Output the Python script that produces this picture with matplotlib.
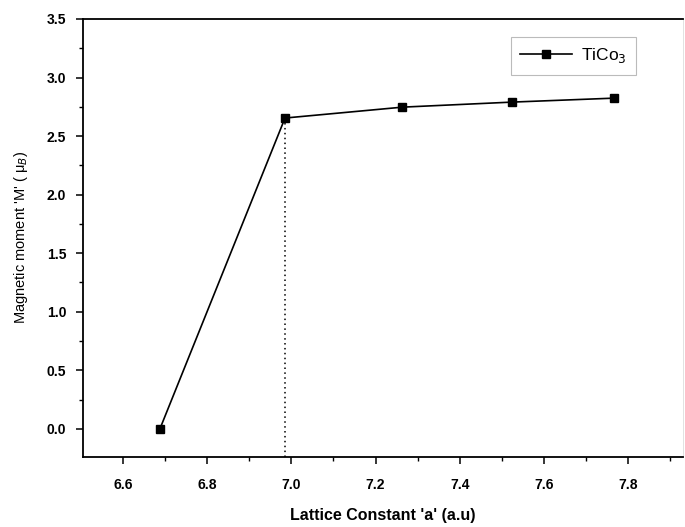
import matplotlib
matplotlib.use("Agg")
import matplotlib.pyplot as plt
from matplotlib.ticker import MultipleLocator

plt.rcParams['font.family'] = ['Liberation Sans', 'DejaVu Sans']

# Lattice constant (a.u) and magnetic moment (mu_B)
lattice_a = [6.688, 6.985, 7.264, 7.524, 7.767]
moment_M = [0.0, 2.654, 2.747, 2.790, 2.824]
series_label = "TiCo$_3$"
x_ticks = [6.6, 6.8, 7.0, 7.2, 7.4, 7.6, 7.8]
y_ticks = [0.0, 0.5, 1.0, 1.5, 2.0, 2.5, 3.0, 3.5]

fig = plt.figure(figsize=(6.85, 5.27), dpi=100)
ax = fig.add_axes([0.121, 0.133, 0.876, 0.831])

ax.plot(lattice_a, moment_M, color='black', lw=1.2, marker='s', ms=6,
        mec='black', mfc='black', label=series_label)

# dotted guide from the x-axis up to the kink point
ax.vlines(lattice_a[1], -0.24, moment_M[1], colors='black',
          linestyles=(0, (1, 2.2)), lw=1.1)

ax.set_xlim(6.505, 7.93)
ax.set_ylim(-0.24, 3.5)
ax.set_xticks(x_ticks)
ax.set_yticks(y_ticks)
ax.set_xticklabels([f"{v:.1f}" for v in x_ticks], fontweight='bold', fontsize=10)
ax.set_yticklabels([f"{v:.1f}" for v in y_ticks], fontweight='bold', fontsize=10)
ax.xaxis.set_minor_locator(MultipleLocator(0.1))
ax.yaxis.set_minor_locator(MultipleLocator(0.25))
ax.tick_params(which='major', direction='out', length=5, width=1.1, pad=7)
ax.tick_params(which='minor', direction='out', length=3, width=1.0)
ax.tick_params(axis='x', pad=10)
ax.tick_params(top=False, right=False)

for side in ['left', 'bottom', 'top']:
    ax.spines[side].set_linewidth(1.3)
ax.spines['right'].set_linewidth(0.6)
ax.spines['right'].set_color('#dddddd')

ax.set_xlabel("Lattice Constant 'a' (a.u)", fontsize=11.5, fontweight='bold', labelpad=12)
ax.set_ylabel("Magnetic moment 'M' ( \u03bc$_B$)", fontsize=10.5, labelpad=12)

leg = ax.legend(loc='upper right', bbox_to_anchor=(0.922, 0.959), fontsize=12.5,
                handlelength=3.0, frameon=True, fancybox=False, borderaxespad=0,
                borderpad=0.55, handletextpad=0.5)
leg.get_frame().set_edgecolor('#aaaaaa')
leg.get_frame().set_linewidth(0.8)

fig.savefig("out.png", dpi=100)
